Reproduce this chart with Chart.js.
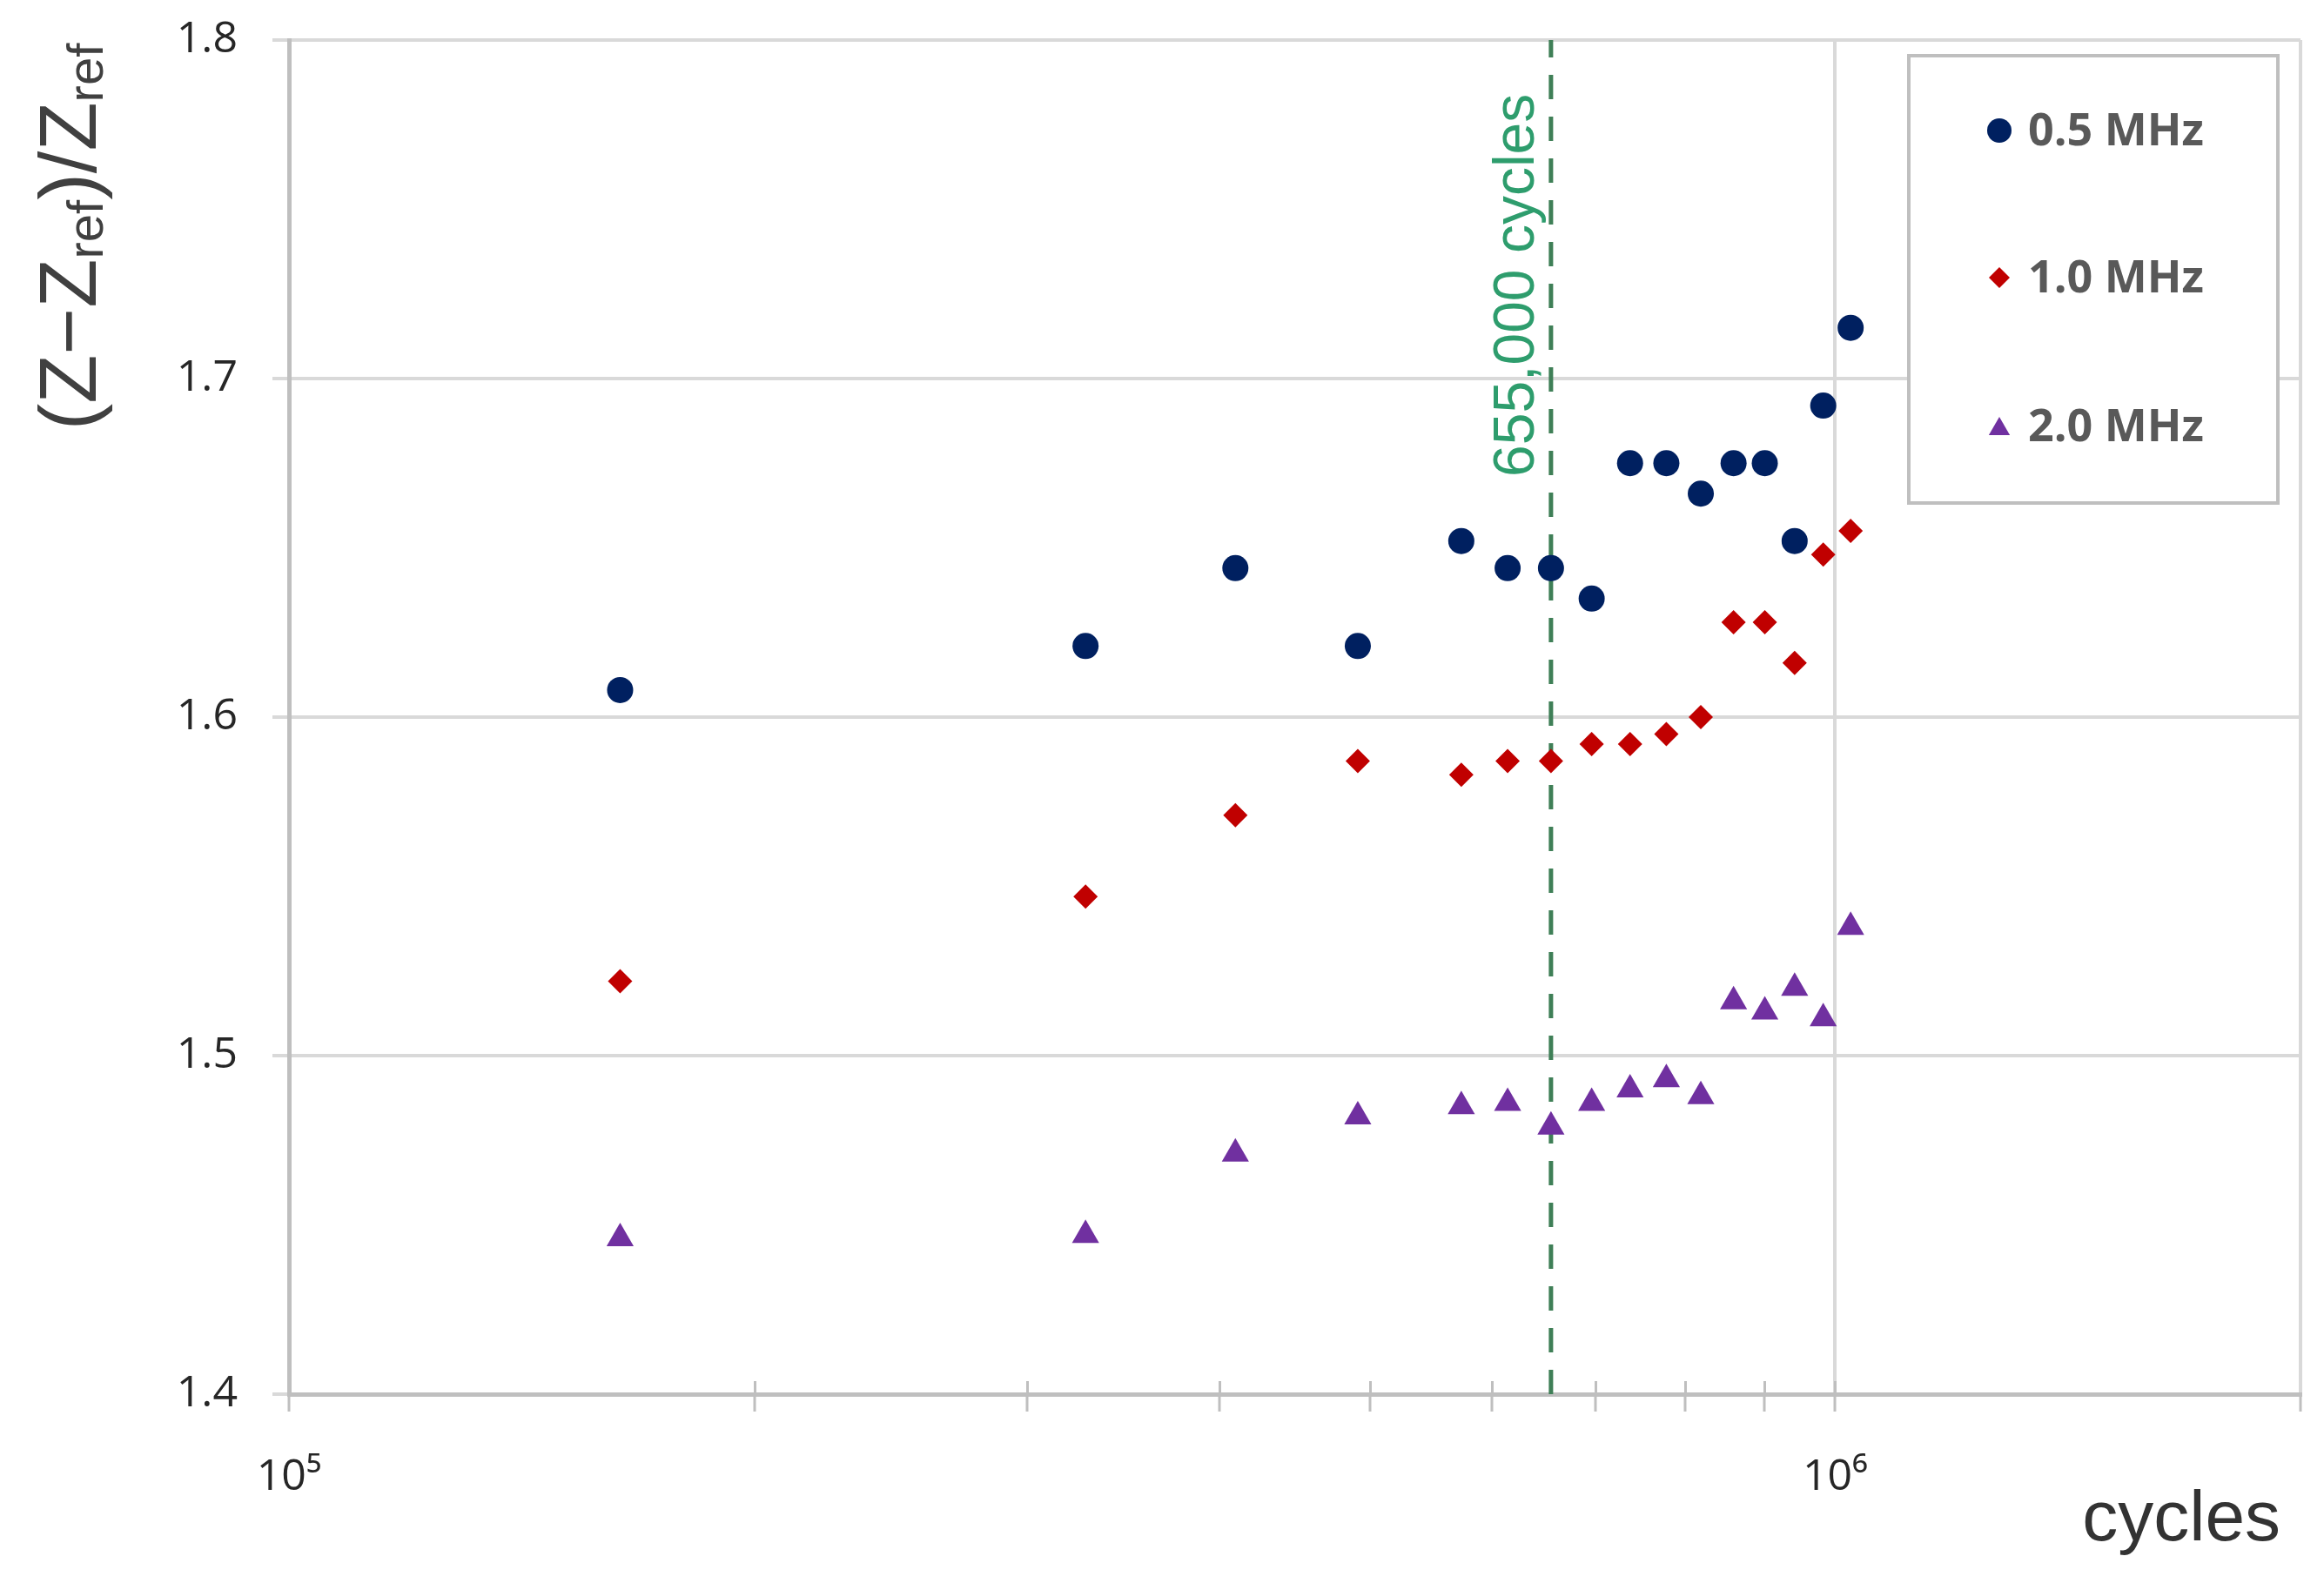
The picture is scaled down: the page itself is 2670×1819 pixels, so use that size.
<!DOCTYPE html>
<html><head><meta charset="utf-8">
<script src="https://cdn.jsdelivr.net/npm/chart.js@4.4.1/dist/chart.umd.min.js"></script>
<style>html,body{margin:0;padding:0;background:#fff}canvas{display:block}</style>
</head><body>
<canvas id="c" width="2670" height="1819"></canvas>
<script>
// ---------- data ----------
const cycles   = [163750, 327500, 409375, 491250, 573125, 614060, 655000, 695940, 736880, 777810, 818750, 859690, 900630, 941560, 982500, 1023440];
const mhz05    = [1.608, 1.621, 1.644, 1.621, 1.652, 1.644, 1.644, 1.635, 1.675, 1.675, 1.666, 1.675, 1.675, 1.652, 1.692, 1.715];
const mhz10    = [1.522, 1.547, 1.571, 1.587, 1.583, 1.587, 1.587, 1.592, 1.592, 1.595, 1.600, 1.628, 1.628, 1.616, 1.648, 1.655];
const mhz20    = [1.446, 1.447, 1.471, 1.482, 1.485, 1.486, 1.479, 1.486, 1.490, 1.493, 1.488, 1.516, 1.513, 1.520, 1.511, 1.538];
const seriesLabels = ['0.5 MHz', '1.0 MHz', '2.0 MHz'];
const markerCycles = 655000;
const markerLabel  = '655,000 cycles';
const xTickValues  = [1e5, 2e5, 3e5, 4e5, 5e5, 6e5, 7e5, 8e5, 9e5, 1e6, 2e6];
const xTickLabels  = {100000: '10\u2075', 1000000: '10\u2076'};
const yMin = 1.4, yMax = 1.8, yStep = 0.1;
const xTitle = 'cycles';
const yTitleParts = [['(Z\u2212Z', false], ['ref', true], [')/Z', false], ['ref', true]];

// ---------- styles ----------
const COLORS = ['#002060', '#c00000', '#7030a0'];
const STYLES = ['circle', 'rectRot', 'triangle'];
const RADII  = [15, 14, 18];
const LEGEND_RADII = [14, 12, 14];
const GRID = '#d9d9d9', AXIS = '#bfbfbf';

const toPts = ys => cycles.map((c, i) => ({x: c, y: ys[i]}));
const seriesValues = [mhz05, mhz10, mhz20];

const datasets = seriesValues.map((ys, i) => ({
  label: seriesLabels[i],
  data: toPts(ys),
  pointStyle: STYLES[i],
  pointRadius: RADII[i],
  pointHoverRadius: RADII[i],
  backgroundColor: COLORS[i],
  borderColor: COLORS[i],
  pointBorderWidth: 0,
  showLine: false
}));
datasets.push({
  label: markerLabel,
  data: [{x: markerCycles, y: yMin}, {x: markerCycles, y: yMax}],
  showLine: true,
  pointRadius: 0,
  borderColor: '#3f7f57',
  borderWidth: 5,
  borderDash: [28, 20]
});

function drawMarker(ctx, style, r, x, y, color) {
  ctx.fillStyle = color;
  ctx.beginPath();
  if (style === 'circle') {
    ctx.arc(x, y, r, 0, Math.PI * 2);
  } else if (style === 'rectRot') {
    ctx.moveTo(x, y - r); ctx.lineTo(x + r, y); ctx.lineTo(x, y + r); ctx.lineTo(x - r, y);
  } else {
    ctx.moveTo(x, y - r);
    ctx.lineTo(x + r * Math.sin(2 * Math.PI / 3), y - r * Math.cos(2 * Math.PI / 3));
    ctx.lineTo(x + r * Math.sin(4 * Math.PI / 3), y - r * Math.cos(4 * Math.PI / 3));
  }
  ctx.closePath();
  ctx.fill();
}

const innerTicks = {
  id: 'innerTicks',
  beforeDatasetsDraw(chart) {
    const {ctx, chartArea, scales: {x}} = chart;
    ctx.save();
    ctx.strokeStyle = AXIS; ctx.lineWidth = 3;
    xTickValues.forEach(v => {
      if (v === x.min || v === x.max) return;
      const px = Math.round(x.getPixelForValue(v)) + 0.5;
      ctx.beginPath(); ctx.moveTo(px, chartArea.bottom - 15); ctx.lineTo(px, chartArea.bottom); ctx.stroke();
    });
    ctx.restore();
  }
};

const markerText = {
  id: 'markerText',
  afterDatasetsDraw(chart) {
    const {ctx, scales: {x}} = chart;
    const px = x.getPixelForValue(markerCycles);
    ctx.save();
    ctx.translate(px - 20, 548);
    ctx.rotate(-Math.PI / 2);
    ctx.font = '66px "Liberation Sans", Arial, sans-serif';
    ctx.fillStyle = '#2e9d6d';
    ctx.textAlign = 'left';
    ctx.textBaseline = 'alphabetic';
    ctx.fillText(markerLabel, 0, 0);
    ctx.restore();
  }
};

const boxLegend = {
  id: 'boxLegend',
  afterDatasetsDraw(chart) {
    const ctx = chart.ctx;
    const bx = 2193, by = 64, bw = 424, bh = 514;
    ctx.save();
    ctx.fillStyle = '#ffffff';
    ctx.fillRect(bx, by, bw, bh);
    ctx.strokeStyle = AXIS; ctx.lineWidth = 4;
    ctx.strokeRect(bx, by, bw, bh);
    const rows = [150, 319, 490];
    ctx.font = 'bold 52px "Open Sans", "Liberation Sans", sans-serif';
    ctx.textBaseline = 'middle';
    ctx.textAlign = 'left';
    seriesLabels.forEach((lab, i) => {
      drawMarker(ctx, STYLES[i], LEGEND_RADII[i], 2297, rows[i] + (i === 2 ? 3 : 0), COLORS[i]);
      ctx.fillStyle = '#595959';
      ctx.fillText(lab, 2330, rows[i] + 2);
    });
    ctx.restore();
  }
};

const axisTitles = {
  id: 'axisTitles',
  afterDraw(chart) {
    const ctx = chart.ctx;
    // x axis title, bottom right
    ctx.save();
    ctx.font = '82px "Liberation Sans", Arial, sans-serif';
    ctx.fillStyle = '#333333';
    ctx.textAlign = 'right';
    ctx.textBaseline = 'alphabetic';
    ctx.fillText(xTitle, chart.chartArea.right - 23, 1770);
    ctx.restore();
    // y axis title with subscripts
    const mainFont = '92px "Liberation Sans", Arial, sans-serif';
    const subFont = '58px "Liberation Sans", Arial, sans-serif';
    ctx.save();
    let total = 0;
    yTitleParts.forEach(([t, s]) => { ctx.font = s ? subFont : mainFont; total += ctx.measureText(t).width; });
    ctx.translate(110, 272 + total / 2);
    ctx.rotate(-Math.PI / 2);
    ctx.fillStyle = '#404040';
    ctx.textBaseline = 'alphabetic';
    ctx.textAlign = 'left';
    let px = 0;
    yTitleParts.forEach(([t, s]) => {
      ctx.font = s ? subFont : mainFont;
      ctx.fillText(t, px, s ? 8 : 0);
      px += ctx.measureText(t).width;
    });
    ctx.restore();
  }
};

new Chart(document.getElementById('c'), {
  type: 'scatter',
  data: {datasets},
  plugins: [innerTicks, markerText, boxLegend, axisTitles],
  options: {
    responsive: false,
    animation: false,
    devicePixelRatio: 1,
    layout: {padding: {top: 46, right: 27, left: 0, bottom: 0}},
    plugins: {legend: {display: false}, tooltip: {enabled: false}},
    scales: {
      x: {
        type: 'logarithmic',
        min: 1e5, max: 2e6,
        afterBuildTicks: s => { s.ticks = xTickValues.map(v => ({value: v})); },
        afterFit: s => { s.height = 217; s.paddingLeft = 0; s.paddingRight = 0; },
        ticks: {
          autoSkip: false, maxRotation: 0, minRotation: 0,
          padding: 46,
          color: '#262626',
          font: {family: '"Open Sans", "DejaVu Sans", sans-serif', size: 50},
          callback: v => xTickLabels[v] || ''
        },
        grid: {
          color: c => (c.tick && (c.tick.value === 1e6 || c.tick.value === 2e6)) ? GRID : 'rgba(0,0,0,0)',
          lineWidth: 4,
          tickLength: 20,
          tickColor: AXIS,
          tickWidth: 3
        },
        border: {display: true, color: AXIS, width: 5},
        title: {display: false}
      },
      y: {
        min: yMin, max: yMax,
        afterFit: s => { s.width = 332; s.paddingTop = 0; s.paddingBottom = 0; },
        ticks: {
          stepSize: yStep,
          padding: 40,
          color: '#262626',
          font: {family: '"Open Sans", sans-serif', size: 50},
          callback: v => Number(v).toFixed(1)
        },
        grid: {color: GRID, lineWidth: 4, tickLength: 19, tickColor: GRID},
        border: {display: true, color: AXIS, width: 5}
      }
    }
  }
});
</script>
</body></html>
